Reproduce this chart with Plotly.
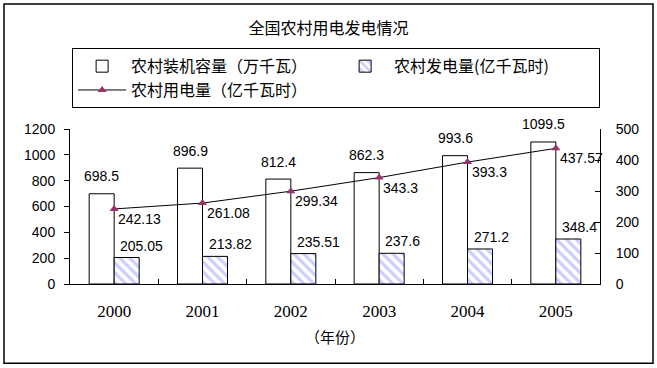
import plotly.graph_objects as go

years = ["2000", "2001", "2002", "2003", "2004", "2005"]
capacity = [698.5, 896.9, 812.4, 862.3, 993.6, 1099.5]          # 农村装机容量（万千瓦）
generation = [205.05, 213.82, 235.51, 237.6, 271.2, 348.4]      # 农村发电量(亿千瓦时)
consumption = [242.13, 261.08, 299.34, 343.3, 393.3, 437.57]    # 农村用电量（亿千瓦时）

name_cap = "农村装机容量（万千瓦）"
name_gen = "农村发电量(亿千瓦时)"
name_use = "农村用电量（亿千瓦时）"

CJK = "Noto Sans CJK SC"
NUM = "Liberation Sans, Arial"
SERIF = "Liberation Serif, Times New Roman"

fig = go.Figure()
fig.add_trace(go.Bar(
    x=years, y=capacity, name=name_cap,
    marker=dict(color="white", line=dict(color="black", width=1)),
    yaxis="y",
))
fig.add_trace(go.Bar(
    x=years, y=generation, name=name_gen,
    marker=dict(color="white", line=dict(color="black", width=1),
                pattern=dict(shape="\\", fgcolor="#9999ff", bgcolor="white",
                             size=7, solidity=0.45)),
    yaxis="y",
))
fig.add_trace(go.Scatter(
    x=years, y=consumption, name=name_use, mode="lines+markers",
    line=dict(color="black", width=1),
    marker=dict(symbol="triangle-up", size=8, color="#993366"),
    yaxis="y2",
))

annotations = []
for i, v in enumerate(capacity):
    annotations.append(dict(x=i, y=v, xref="x", yref="y", text=f"{v:g}",
                            showarrow=False, xanchor="center", yanchor="middle",
                            xshift=-12.5, yshift=17.5,
                            font=dict(family=NUM, size=14, color="black")))
for i, v in enumerate(generation):
    annotations.append(dict(x=i, y=v, xref="x", yref="y", text=f"{v:g}",
                            showarrow=False, xanchor="left", yanchor="middle",
                            xshift=4, yshift=12,
                            font=dict(family=NUM, size=14, color="black")))
for i, v in enumerate(consumption):
    annotations.append(dict(x=i, y=v, xref="x", yref="y2", text=f"{v:g}",
                            showarrow=False, xanchor="left", yanchor="middle",
                            xshift=2, yshift=-10,
                            font=dict(family=NUM, size=14, color="black")))
annotations.append(dict(x=0.5, y=-0.336, xref="paper", yref="paper", text="（年份）",
                        showarrow=False, xanchor="center", yanchor="middle",
                        font=dict(family=CJK, size=15, color="black")))

fig.update_layout(
    width=657, height=368,
    margin=dict(l=70, r=57, t=129, b=83.5),
    paper_bgcolor="white", plot_bgcolor="white",
    barmode="group", bargap=0.434, bargroupgap=0,
    title=dict(text="全国农村用电发电情况", x=0.5, xanchor="center",
               y=1 - 28 / 368, yanchor="middle",
               font=dict(family=CJK, size=16, color="black")),
    showlegend=True,
    legend=dict(orientation="h", x=0.004, y=1 + 81 / 155.5, xanchor="left", yanchor="top",
                entrywidth=200, entrywidthmode="pixels", itemwidth=48,
                bordercolor="black", borderwidth=1, bgcolor="white",
                font=dict(family=CJK, size=16, color="black"),
                traceorder="normal"),
    xaxis=dict(type="category", categoryorder="array", categoryarray=years,
               range=[-0.5, len(years) - 0.5],
               showline=True, linecolor="black", linewidth=1,
               ticks="inside", tickson="boundaries", ticklen=5, tickcolor="black",
               tickfont=dict(family=SERIF, size=17, color="black"),
               ticklabelstandoff=12, showgrid=False, zeroline=False),
    yaxis=dict(range=[0, 1200], dtick=200, showline=True, linecolor="black",
               linewidth=1, ticks="outside", ticklen=5, tickcolor="black",
               tickfont=dict(family=NUM, size=14, color="black"),
               ticklabelstandoff=6, showgrid=False, zeroline=False),
    yaxis2=dict(range=[0, 500], dtick=100, overlaying="y", side="right",
                showline=True, linecolor="black", linewidth=1,
                ticks="inside", ticklen=5, tickcolor="black",
                tickfont=dict(family=NUM, size=14, color="black"),
                ticklabelstandoff=12, showgrid=False, zeroline=False),
    annotations=annotations,
    shapes=[dict(type="rect", xref="paper", yref="paper",
                 x0=(4 - 70) / 530, x1=(653 - 70) / 530,
                 y0=(284.5 - 364) / 155.5, y1=(284.5 - 3.5) / 155.5,
                 line=dict(color="black", width=1.5), fillcolor="rgba(0,0,0,0)",
                 layer="below")],
)

fig.write_html("out.html", config={"displayModeBar": False},
               post_script="document.body.style.margin='0';document.body.style.overflow='hidden';")
